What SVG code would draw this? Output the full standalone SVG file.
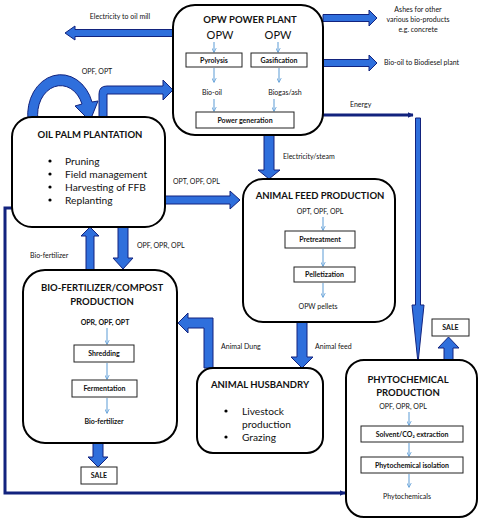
<svg xmlns="http://www.w3.org/2000/svg" width="480" height="520" viewBox="0 0 480 520">
<style>
text{font-family:Lato,"Liberation Sans",sans-serif;fill:#111}
.box{fill:#fff;stroke:#000;stroke-width:2}
.sub{fill:#fff;stroke:#222;stroke-width:1}
.ttl{font-weight:bold;font-size:9.5px;text-anchor:middle}
.lbl{font-size:7px}
.in{font-size:7px;text-anchor:middle}
.sb{font-size:7px;font-weight:bold;text-anchor:middle}
.bul{font-size:10.2px}
.blk{fill:#2f6fdc;stroke:#12237e;stroke-width:1}
.thin{stroke:#5b9bd5;stroke-width:1;fill:none;marker-end:url(#ah)}
</style>
<defs>
<marker id="ah" viewBox="0 0 10 10" refX="9" refY="5" markerWidth="5" markerHeight="5" orient="auto" markerUnits="userSpaceOnUse">
<path d="M0,0 L10,5 L0,10" fill="none" stroke="#5b9bd5" stroke-width="1.5"/>
</marker>
<marker id="nav" viewBox="0 0 10 10" refX="9" refY="5" markerWidth="6" markerHeight="8" orient="auto" markerUnits="userSpaceOnUse">
<path d="M0,0 L10,5 L0,10 Z" fill="#12237e"/>
</marker>
</defs>
<g id="connectors">
<path class="blk" d="M173,29.5 H75 V26 L65,33 L75,40 V36.5 H173 Z"/>
<path class="blk" d="M323,14.5 H369 V10 L377,18 L369,26 V21.5 H323 Z"/>
<path class="blk" d="M323,59.5 H369 V55 L377,63 L369,71 V66.5 H323 Z"/>
<polyline points="323,115 413,115" fill="none" stroke="#12237e" stroke-width="3" marker-end="url(#nav)"/>
<path class="blk" d="M415.5,118 H420.5 V305 H424 L418,363 L412,305 H415.5 Z"/>
<path class="blk" d="M28,120 A33,40 0 0 1 92,102 L98,101 L90,121 L75,106 L82,104 A23,29 0 0 0 38,120 Z"/>
<path class="blk" d="M99,120 V94 Q99,86 107,86 H163 V80 L173,90 L163,100 V94 H107 V120 Z"/>
<path class="blk" d="M165,196 H230 V191 L240,200 L230,209 V204 H165 Z"/>
<path class="blk" d="M264,135 V170 H258 L269,179 L280,170 H274 V135 Z"/>
<path class="blk" d="M86,270 V236 H81 L90,227 L99,236 H94 V270 Z"/>
<path class="blk" d="M118,227 V258 H113 L123,269 L133,258 H128 V227 Z"/>
<path class="blk" d="M93,443 V457 H88 L98,467 L108,457 H103 V443 Z"/>
<path class="blk" d="M204,368 V328 H188 V333 L178,323 L188,313 V318 H213 V368 Z"/>
<path class="blk" d="M297,322 V357 H291 L302,368 L313,357 H307 V322 Z"/>
<path class="blk" d="M444,360 V348 H438 L448.5,337 L459,348 H453 V360 Z"/>
<polyline points="12,208 5,208 5,493 345,493" fill="none" stroke="#12237e" stroke-width="3" marker-end="url(#nav)"/>
<text class="lbl" x="120" y="19" text-anchor="middle">Electricity to oil mill</text>
<text class="lbl" x="418" y="12" text-anchor="middle">Ashes for other</text>
<text class="lbl" x="418" y="22" text-anchor="middle">various bio-products</text>
<text class="lbl" x="418" y="32" text-anchor="middle">e.g. concrete</text>
<text class="lbl" x="384" y="65">Bio-oil to Biodiesel plant</text>
<text class="lbl" x="350" y="107">Energy</text>
<text class="lbl" x="97" y="74" text-anchor="middle">OPF, OPT</text>
<text class="lbl" x="173" y="184">OPT, OPF, OPL</text>
<text class="lbl" x="283" y="159">Electricity/steam</text>
<text class="lbl" x="137" y="248">OPF, OPR, OPL</text>
<text class="lbl" x="30" y="258">Bio-fertilizer</text>
<text class="lbl" x="221" y="349">Animal Dung</text>
<text class="lbl" x="315" y="349">Animal feed</text>
</g>
<g id="power-plant">
<rect class="box" x="173" y="5" width="150" height="130" rx="22"/>
<text class="ttl" x="250" y="23">OPW POWER PLANT</text>
<text x="220" y="39" font-size="11" text-anchor="middle">OPW</text>
<text x="278" y="39" font-size="11" text-anchor="middle">OPW</text>
<line class="thin" x1="214" y1="42" x2="214" y2="52"/>
<line class="thin" x1="278" y1="42" x2="278" y2="52"/>
<rect class="sub" x="186" y="53" width="56" height="14"/>
<text class="sb" x="214" y="63">Pyrolysis</text>
<rect class="sub" x="251" y="53" width="56" height="14"/>
<text class="sb" x="279" y="63">Gasification</text>
<line class="thin" x1="214" y1="68" x2="214" y2="82"/>
<line class="thin" x1="279" y1="68" x2="279" y2="82"/>
<text class="in" x="212" y="95">Bio-oil</text>
<text class="in" x="285" y="95">Biogas/ash</text>
<line class="thin" x1="214" y1="99" x2="214" y2="111"/>
<line class="thin" x1="274" y1="99" x2="274" y2="111"/>
<rect class="sub" x="196" y="112" width="98" height="16"/>
<text class="sb" x="245" y="123">Power generation</text>
</g>
<g id="plantation">
<rect class="box" x="12" y="117" width="153" height="110" rx="20"/>
<text class="ttl" x="90" y="138">OIL PALM PLANTATION</text>
<circle cx="50" cy="161" r="1.6" fill="#000"/><text x="65" y="165" class="bul">Pruning</text>
<circle cx="50" cy="174" r="1.6" fill="#000"/><text x="65" y="178" class="bul">Field management</text>
<circle cx="50" cy="187" r="1.6" fill="#000"/><text x="65" y="191" class="bul">Harvesting of FFB</text>
<circle cx="50" cy="200" r="1.6" fill="#000"/><text x="65" y="204" class="bul">Replanting</text>
</g>
<g id="animal-feed">
<rect class="box" x="243" y="179" width="152" height="143" rx="20"/>
<text class="ttl" x="320" y="199">ANIMAL FEED PRODUCTION</text>
<text class="in" x="320" y="214">OPT, OPF, OPL</text>
<line class="thin" x1="323" y1="217" x2="323" y2="230"/>
<rect class="sub" x="285" y="231" width="70" height="17"/>
<text class="sb" x="320" y="242">Pretreatment</text>
<line class="thin" x1="323" y1="249" x2="323" y2="266"/>
<rect class="sub" x="294" y="267" width="61" height="15"/>
<text class="sb" x="324.5" y="277">Pelletization</text>
<line class="thin" x1="323" y1="283" x2="323" y2="297"/>
<text class="in" x="318" y="309">OPW pellets</text>
</g>
<g id="bio-fertilizer">
<rect class="box" x="23" y="270" width="154" height="173" rx="22"/>
<text class="ttl" x="102" y="291">BIO-FERTILIZER/COMPOST</text>
<text class="ttl" x="102" y="305">PRODUCTION</text>
<text class="sb" x="105" y="325">OPR, OPF, OPT</text>
<line class="thin" x1="107" y1="328" x2="107" y2="344"/>
<rect class="sub" x="74" y="345" width="60" height="17"/>
<text class="sb" x="104" y="356">Shredding</text>
<line class="thin" x1="107" y1="363" x2="107" y2="379"/>
<rect class="sub" x="72" y="380" width="65" height="17"/>
<text class="sb" x="104.5" y="391">Fermentation</text>
<line class="thin" x1="107" y1="398" x2="107" y2="413"/>
<text class="sb" x="104" y="424">Bio-fertilizer</text>
</g>
<g id="sale-bio">
<rect class="sub" x="81" y="467" width="36" height="17"/>
<text class="sb" x="99" y="478">SALE</text>
</g>
<g id="animal-husbandry">
<rect class="box" x="197" y="368" width="126" height="85" rx="16"/>
<text class="ttl" x="260" y="388">ANIMAL HUSBANDRY</text>
<circle cx="226" cy="411" r="1.6" fill="#000"/><text x="242" y="415" class="bul">Livestock</text>
<text x="242" y="428" class="bul">production</text>
<circle cx="226" cy="437" r="1.6" fill="#000"/><text x="242" y="441" class="bul">Grazing</text>
</g>
<g id="phytochemical">
<rect class="box" x="346" y="360" width="131" height="157" rx="18"/>
<text class="ttl" x="408" y="383">PHYTOCHEMICAL</text>
<text class="ttl" x="408" y="396">PRODUCTION</text>
<text class="in" x="403" y="409">OPF, OPR, OPL</text>
<line class="thin" x1="409" y1="412" x2="409" y2="425"/>
<rect class="sub" x="361" y="426" width="102" height="16"/>
<text class="sb" x="412" y="437">Solvent/CO₂ extraction</text>
<line class="thin" x1="409" y1="443" x2="409" y2="456"/>
<rect class="sub" x="361" y="457" width="102" height="16"/>
<text class="sb" x="412" y="468">Phytochemical isolation</text>
<line class="thin" x1="409" y1="474" x2="409" y2="487"/>
<text class="in" x="407" y="499">Phytochemicals</text>
</g>
<g id="sale-phyto">
<rect class="sub" x="432" y="319" width="37" height="17"/>
<text class="sb" x="450.5" y="330">SALE</text>
</g>
</svg>
